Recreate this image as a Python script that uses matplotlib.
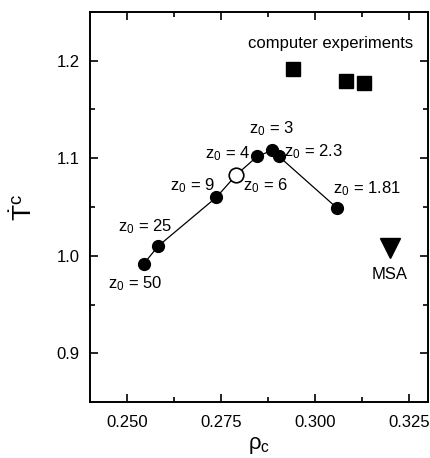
import matplotlib.pyplot as plt

plt.rcParams['font.family'] = ['Liberation Sans', 'DejaVu Sans']
plt.rcParams['mathtext.fontset'] = 'custom'
plt.rcParams['mathtext.rm'] = 'Liberation Sans'
plt.rcParams['mathtext.it'] = 'Liberation Sans'

# theory curve, ordered by z0
z0_labels = ['50', '25', '9', '6', '4', '3', '2.3', '1.81']
rho_c = [0.2544, 0.2582, 0.2737, 0.2790, 0.2846, 0.2885, 0.2903, 0.3058]
T_c = [0.992, 1.010, 1.060, 1.083, 1.102, 1.108, 1.102, 1.049]
open_idx = 3  # z0 = 6 drawn open

# computer experiments
sim_rho = [0.2942, 0.3081, 0.3130]
sim_T = [1.1915, 1.179, 1.1776]

# MSA
msa_rho = [0.3200]
msa_T = [1.0075]

# label anchor points (left edge, vertical centre)
label_pos = {
    '50': (0.2449, 0.971),
    '25': (0.2476, 1.030),
    '9': (0.2614, 1.072),
    '6': (0.2809, 1.072),
    '4': (0.2706, 1.105),
    '3': (0.2824, 1.130),
    '2.3': (0.2918, 1.107),
    '1.81': (0.3048, 1.069),
}

fs = 12

fig = plt.figure(figsize=(4.30, 4.58), dpi=100)
ax = fig.add_axes([0.209, 0.122, 0.786, 0.852])

ax.plot(rho_c, T_c, color='black', lw=0.9, zorder=1)
filled = [i for i in range(len(rho_c)) if i != open_idx]
ax.plot([rho_c[i] for i in filled], [T_c[i] for i in filled], 'o',
        color='black', ms=8.5, zorder=2)
ax.plot(rho_c[open_idx], T_c[open_idx], 'o', mfc='white', mec='black',
        mew=1.2, ms=10.5, zorder=3)

ax.plot(sim_rho, sim_T, 's', color='black', ms=10.5)
ax.plot(msa_rho, msa_T, 'v', color='black', ms=14)

for lab in z0_labels:
    x, y = label_pos[lab]
    ax.text(x, y, r'z$_0$ = ' + lab, fontsize=fs, va='center', ha='left')

ax.text(0.2822, 1.218, 'computer experiments', fontsize=fs, ha='left', va='center')
ax.text(0.3198, 0.981, 'MSA', fontsize=fs, ha='center', va='center')

ax.set_xlim(0.24, 0.33)
ax.set_ylim(0.85, 1.25)
ax.set_xticks([0.250, 0.275, 0.300, 0.325])
ax.set_xticklabels(['0.250', '0.275', '0.300', '0.325'])
ax.set_xticks([0.2625, 0.2875, 0.3125], minor=True)
ax.set_yticks([0.9, 1.0, 1.1, 1.2])
ax.set_yticklabels(['0.9', '1.0', '1.1', '1.2'])
ax.set_yticks([0.85, 0.95, 1.05, 1.15, 1.25], minor=True)

ax.tick_params(which='both', direction='in', top=True, right=True,
               labelsize=fs, width=1.2)
ax.tick_params(which='major', length=6)
ax.tick_params(axis='y', which='major', pad=7.5)
ax.tick_params(axis='x', which='major', pad=9)
ax.tick_params(which='minor', length=3.5)
for s in ax.spines.values():
    s.set_linewidth(1.4)

ax.set_xlabel(r'$\rho_c$', fontsize=16, labelpad=4)
ax.set_ylabel(r'$\dot{\mathrm{T}}^{\mathrm{c}}$', fontsize=19, labelpad=14)

fig.savefig('out.png', dpi=100)
